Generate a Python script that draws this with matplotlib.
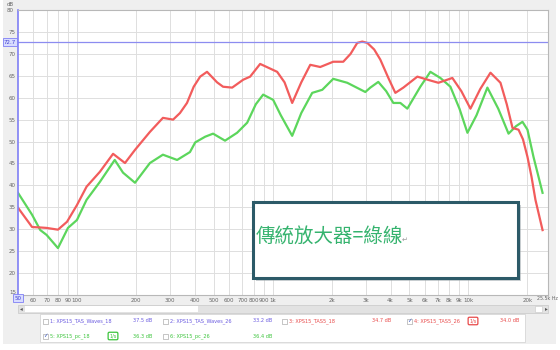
import numpy as np
import matplotlib
matplotlib.use('Agg')
import matplotlib.pyplot as plt
from matplotlib.patches import Rectangle

# frequency response (Hz, dB)
red_freq = [50, 59, 65, 70, 80, 89, 100, 112, 131, 153, 176, 198, 236, 275, 310, 336,
            365, 395, 426, 462, 520, 558, 621, 707, 767, 863, 1054, 1150, 1258, 1400,
            1556, 1750, 2039, 2294, 2500, 2704, 2869, 3043, 3300, 3546, 3900, 4233, 4651,
            5484, 6300, 7024, 8280, 9200, 10240, 11500, 12960, 14580, 15700, 16800,
            18030, 19000, 20030, 21000, 22000, 23920]
red_db = [34.9, 30.5, 30.4, 30.3, 29.9, 31.7, 35.5, 39.7, 43.1, 47.2, 45.1, 48.1, 52.2,
          55.4, 55.0, 56.5, 58.8, 62.5, 64.8, 65.9, 63.5, 62.5, 62.3, 64.1, 64.8, 67.7,
          65.9, 63.5, 58.8, 63.5, 67.5, 67.0, 68.2, 68.2, 70.0, 72.5, 72.8, 72.5, 71.0,
          68.7, 64.5, 61.1, 62.3, 64.8, 64.0, 63.4, 64.5, 61.5, 57.5, 62.0, 65.7, 63.4,
          58.5, 53.1, 52.7, 50.5, 46.5, 42.0, 36.7, 29.8]

green_freq = [50, 59, 65, 70, 80, 90, 100, 112, 131, 156, 172, 198, 236, 275, 325, 378,
              402, 452, 496, 571, 658, 741, 820, 894, 1006, 1100, 1258, 1400, 1592, 1792,
              2039, 2404, 2974, 3154, 3464, 3800, 4134, 4490, 4875, 5680, 6391, 7190,
              8090, 9000, 9885, 11000, 12500, 14200, 16030, 17500, 18890, 20030, 21500,
              23920]
green_db = [38.3, 33.3, 29.8, 28.7, 25.7, 30.3, 32.1, 36.7, 40.8, 45.8, 42.9, 40.6, 45.1,
            47.0, 45.8, 47.6, 49.8, 51.1, 51.8, 50.2, 52.0, 54.3, 58.5, 60.7, 59.5, 56.0,
            51.3, 56.5, 61.1, 61.8, 64.3, 63.4, 61.3, 62.3, 63.6, 61.5, 58.8, 58.8, 57.5,
            62.5, 65.9, 64.5, 62.5, 57.5, 52.0, 56.0, 62.3, 57.5, 51.8, 53.5, 54.5, 52.7,
            46.5, 38.3]

xtick_vals = [60, 70, 80, 90, 100, 200, 300, 400, 500, 600, 700, 800, 900, 1000,
              2000, 3000, 4000, 5000, 6000, 7000, 8000, 9000, 10000, 20000]
xtick_labels = ['60', '70', '80', '90', '100', '200', '300', '400', '500', '600', '700',
                '800', '900', '1k', '2k', '3k', '4k', '5k', '6k', '7k', '8k', '9k', '10k',
                '20k']
ytick_vals = list(range(20, 80, 5))
ref_level = 72.7

legend_rows = [
    [('1: XPS15_TAS_Waves_18', '37.5 dB', '#6a5ae0', False),
     ('2: XPS15_TAS_Waves_26', '33.2 dB', '#6a5ae0', False),
     ('3: XPS15_TAS5_18', '34.7 dB', '#e84a4a', False),
     ('4: XPS15_TAS5_26', '34.0 dB', '#e84a4a', True)],
    [('5: XPS15_pc_18', '36.3 dB', '#3cc43c', True),
     ('6: XPS15_pc_26', '36.4 dB', '#3cc43c', False)],
]

W, H = 560, 350


def fx(px):
    return px / W


def fy(py):
    return 1 - py / H


fig = plt.figure(figsize=(5.6, 3.5), dpi=100)
fig.patch.set_facecolor('white')

# window frame
fig.patches.append(Rectangle((fx(3), fy(344)), fx(553), 344 / H, transform=fig.transFigure,
                             facecolor='#efefef', edgecolor='none', zorder=-1))

ax = fig.add_axes([fx(18), fy(295), fx(530), 285 / H])
ax.set_zorder(1)
ax.set_facecolor('white')
ax.set_xscale('log')
ax.set_xlim(50, 25500)
ax.set_ylim(15, 80)
ax.plot(green_freq, green_db, color='#5cd65c', lw=1.6, solid_joinstyle='round')
ax.plot(red_freq, red_db, color='#f25c5c', lw=1.6, solid_joinstyle='round')
ax.axhline(ref_level, color='#8c8cf0', lw=0.9)

ax.set_xticks(xtick_vals)
ax.set_xticklabels(xtick_labels)
ax.xaxis.set_minor_locator(matplotlib.ticker.NullLocator())
ax.set_yticks(ytick_vals)
ax.tick_params(length=0, labelsize=4, labelcolor='#666666', pad=2)
ax.grid(True, color='#dedede', lw=0.7)
for s in ['top', 'right', 'bottom']:
    ax.spines[s].set_color('#b8b8b8')
    ax.spines[s].set_linewidth(0.8)
ax.spines['left'].set_color('#7f7ff5')
ax.spines['left'].set_linewidth(1.2)

# end labels
fig.text(fx(10), fy(4), 'dB', fontsize=4, color='#666666', ha='center', va='center')
fig.text(fx(10), fy(10), '80', fontsize=4, color='#666666', ha='center', va='center')
fig.text(fx(13), fy(292), '15', fontsize=4, color='#666666', ha='center', va='center')
fig.text(fx(537), fy(298), '25.5k Hz', fontsize=3.4, color='#666666', ha='left', va='center')
fig.text(fx(10), fy(42), str(ref_level), fontsize=4, color='#4040d0', ha='center', va='center',
         bbox=dict(boxstyle='square,pad=0.2', fc='#d8dcff', ec='#7f7ff5', lw=0.6))
fig.text(fx(18), fy(298), '50', fontsize=4, color='#4040d0', ha='center', va='center',
         bbox=dict(boxstyle='square,pad=0.25', fc='#d8dcff', ec='#7f7ff5', lw=0.6))

# scroll bar
fig.patches.append(Rectangle((fx(18), fy(313)), fx(530), 8 / H, transform=fig.transFigure,
                             facecolor='#e2e2e2', edgecolor='#c8c8c8', lw=0.5))
fig.patches.append(Rectangle((fx(25), fy(312)), fx(173), 6 / H, transform=fig.transFigure,
                             facecolor='white', edgecolor='none'))
fig.patches.append(Rectangle((fx(535), fy(312)), fx(7), 6 / H, transform=fig.transFigure,
                             facecolor='white', edgecolor='#c8c8c8', lw=0.4))
fig.text(fx(21), fy(309), '◂', fontsize=4, color='#555555', ha='center', va='center')
fig.text(fx(546), fy(309), '▸', fontsize=4, color='#555555', ha='center', va='center')

# legend panel
fig.patches.append(Rectangle((fx(40), fy(342)), fx(485), 28 / H, transform=fig.transFigure,
                             facecolor='white', edgecolor='#d0d0d0', lw=0.5))
col_x = [45, 165, 284, 409]
val_x = [133, 253, 372, 500]
row_y = [321, 336]
for r, row in enumerate(legend_rows):
    for c, (name, val, col, checked) in enumerate(row):
        cx = col_x[c]
        y = row_y[r]
        fig.patches.append(Rectangle((fx(cx - 2), fy(y + 2.5)), fx(5), 5 / H,
                                     transform=fig.transFigure, facecolor='white',
                                     edgecolor='#999999', lw=0.4))
        if checked:
            fig.text(fx(cx + 0.5), fy(y), '✓', fontsize=4, color='#3050c0',
                     ha='center', va='center')
        fig.text(fx(cx + 5), fy(y), name, fontsize=3.6, color=col, ha='left', va='center')
        fig.text(fx(val_x[c]), fy(y), val, fontsize=3.6, color=col, ha='left', va='center')
        if checked:
            ix = 113 if r == 1 else 473
            fig.text(fx(ix), fy(y), '1/s', fontsize=3.6, color=col, ha='center', va='center',
                     bbox=dict(boxstyle='round,pad=0.25', fc='white', ec=col, lw=0.9))

# annotation box
fig.patches.append(Rectangle((fx(256), fy(281)), fx(265), 76 / H, transform=fig.transFigure,
                             facecolor='#9aa4a8', edgecolor='none', alpha=0.5, zorder=5))
fig.patches.append(Rectangle((fx(253), fy(278)), fx(265), 76 / H, transform=fig.transFigure,
                             facecolor='white', edgecolor='#2c5a68', lw=2.2, zorder=6))
fig.text(fx(256), fy(237), '傳統放大器=綠線', fontsize=14, color='#35b36e',
         family=['Noto Sans CJK TC', 'DejaVu Sans'], ha='left', va='center', zorder=7)
fig.text(fx(402), fy(240), '↵', fontsize=5, color='#999999',
         family=['DejaVu Sans'], ha='left', va='center', zorder=7)

fig.savefig('out.png', dpi=100)
